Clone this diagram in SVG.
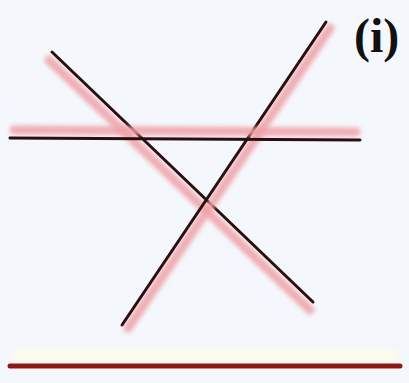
<svg xmlns="http://www.w3.org/2000/svg" width="409" height="383" viewBox="0 0 409 383">
<defs>
<filter id="blur" filterUnits="userSpaceOnUse" x="0" y="0" width="409" height="383"><feGaussianBlur stdDeviation="2"/></filter>
<style>
.glow{stroke:#f0a0a8;stroke-width:9;stroke-linecap:round;fill:none;filter:url(#blur);opacity:0.85}
.ln{stroke:#2a0e10;stroke-width:3;stroke-linecap:round;fill:none}
.lbl{font-family:"Liberation Serif",serif;font-weight:bold;font-size:48px;fill:#111}
</style>
</defs>
<rect width="409" height="383" fill="#f4f7fb"/>
<g id="connectors">
<g id="line-desc">
<line class="glow" x1="49" y1="60" x2="310" y2="310"/>
<line class="ln" x1="52" y1="52" x2="313" y2="302"/>
</g>
<g id="line-asc">
<line class="glow" x1="128" y1="328" x2="330" y2="28"/>
<line class="ln" x1="122" y1="325" x2="326" y2="22"/>
</g>
<g id="line-horiz">
<line class="glow" x1="14" y1="130" x2="356" y2="132"/>
<line class="ln" x1="10" y1="138" x2="360" y2="140"/>
</g>
<g id="base">
<line x1="12" y1="355" x2="398" y2="355" stroke="#fbfbec" stroke-width="12" filter="url(#blur)"/>
<line x1="10" y1="366" x2="400" y2="366" stroke="#8e1a16" stroke-width="5" stroke-linecap="round"/>
</g>
</g>
<g id="label"><text class="lbl" x="354" y="52">(i)</text></g>
</svg>
